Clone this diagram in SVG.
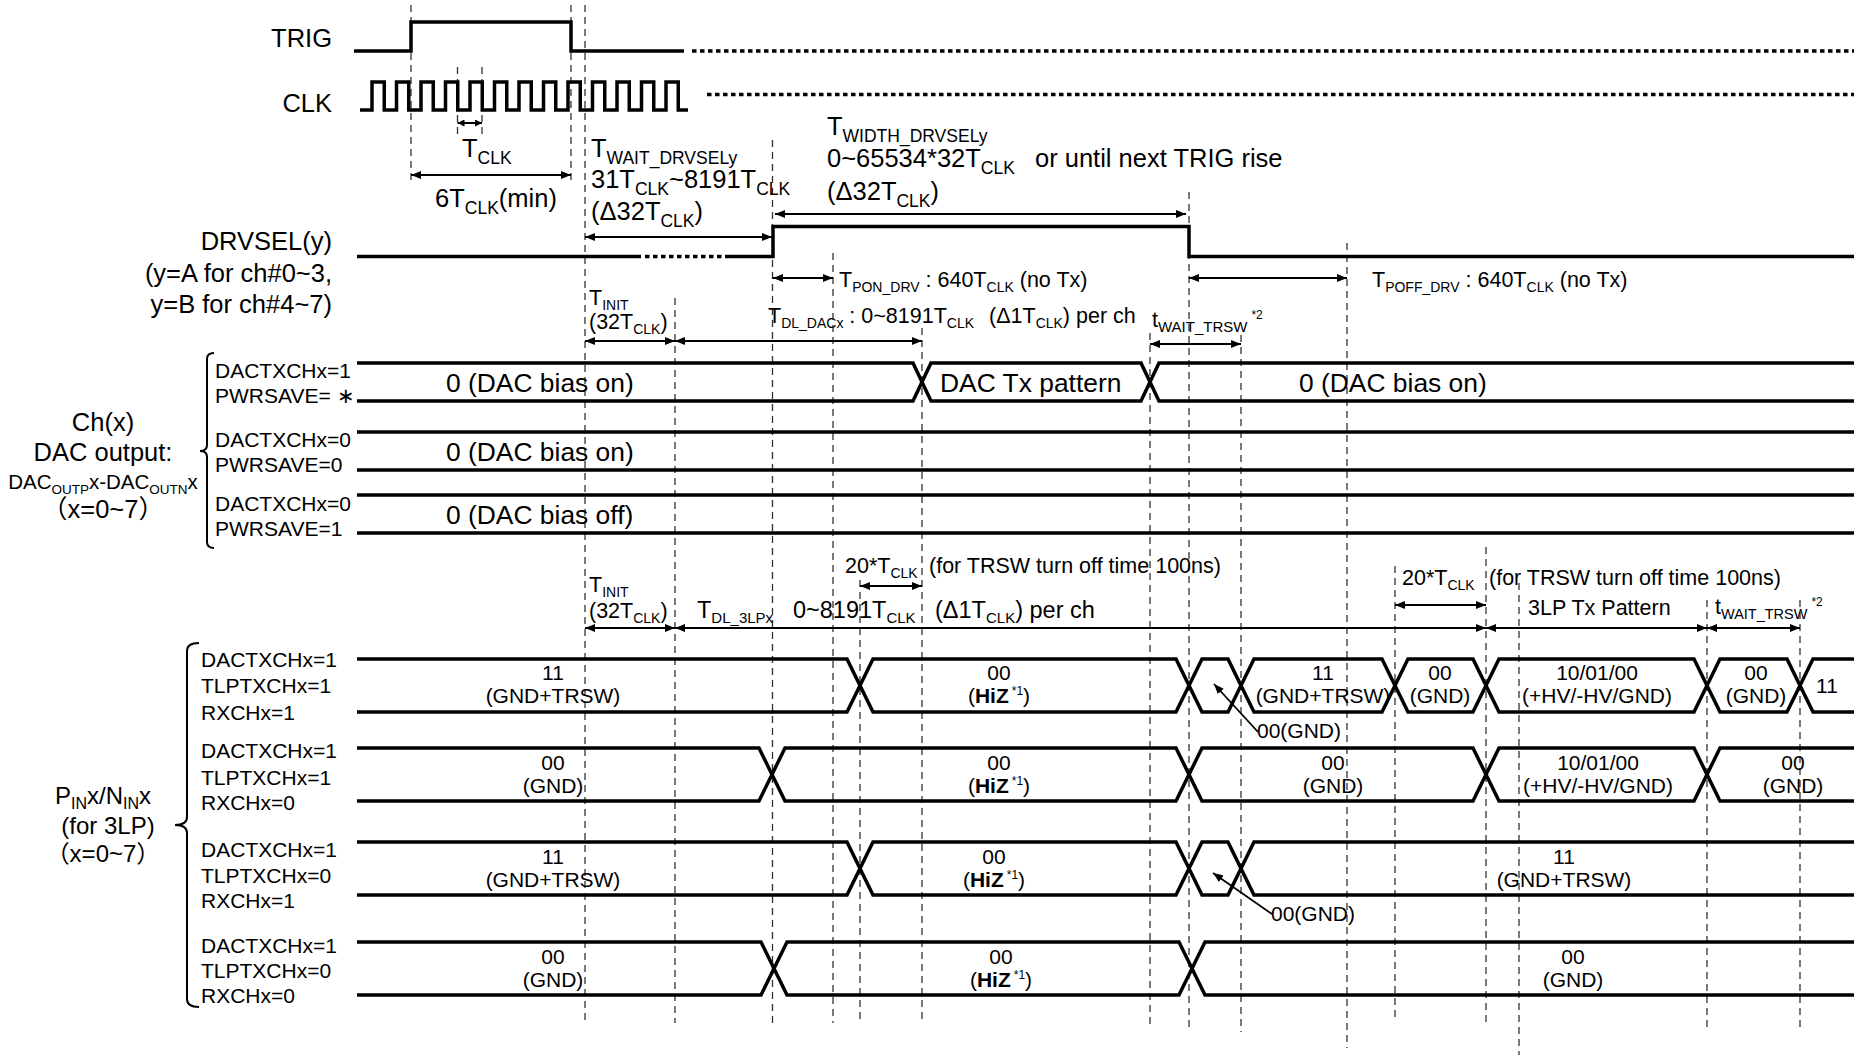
<svg xmlns="http://www.w3.org/2000/svg" width="1854" height="1055" viewBox="0 0 1854 1055">
<defs>
<style>
text{font-family:"Liberation Sans",Arial,"Noto Sans CJK JP",sans-serif;fill:#000}
.b{font-size:25.5px}
.p{font-size:24px}
.m{font-size:21.5px}
.d{font-size:26.4px}
.l{font-size:21px}
.k{font-size:23.5px}
.sb{font-size:17.5px}
.ss{font-size:14px}
.sw{font-size:15px}
.sup{font-size:12px}
.sig{fill:none;stroke:#000;stroke-width:3.5;stroke-linejoin:miter}
.dot{fill:none;stroke:#000;stroke-width:3.5;stroke-dasharray:4.5 3.5}
.dash{fill:none;stroke:#333;stroke-width:1.3;stroke-dasharray:7 5}
.arr{fill:none;stroke:#000;stroke-width:2;marker-start:url(#ah);marker-end:url(#ah)}
.arrs{fill:none;stroke:#000;stroke-width:2;marker-start:url(#ahs);marker-end:url(#ahs)}
.ptr{fill:none;stroke:#000;stroke-width:1.8;marker-end:url(#ah)}
.brk{fill:none;stroke:#000;stroke-width:2}
</style>
<marker id="ah" viewBox="0 0 10 8" refX="10" refY="4" markerWidth="10" markerHeight="8" markerUnits="userSpaceOnUse" orient="auto-start-reverse"><path d="M0,0 L10,4 L0,8 z" fill="#000"/></marker>
<marker id="ahs" viewBox="0 0 7 7" refX="7" refY="3.5" markerWidth="7" markerHeight="7" markerUnits="userSpaceOnUse" orient="auto-start-reverse"><path d="M0,0 L7,3.5 L0,7 z" fill="#000"/></marker>
</defs>
<rect width="1854" height="1055" fill="#fff"/>

<g id="guides">
<line class="dash" x1="411" y1="5" x2="411" y2="185"/>
<line class="dash" x1="457.5" y1="67" x2="457.5" y2="135"/>
<line class="dash" x1="482" y1="67" x2="482" y2="135"/>
<line class="dash" x1="571" y1="5" x2="571" y2="185"/>
<line class="dash" x1="585" y1="5" x2="585" y2="1023"/>
<line class="dash" x1="675" y1="298" x2="675" y2="1023"/>
<line class="dash" x1="772.5" y1="140" x2="772.5" y2="1028"/>
<line class="dash" x1="833" y1="253" x2="833" y2="1023"/>
<line class="dash" x1="860" y1="580" x2="860" y2="1023"/>
<line class="dash" x1="922" y1="328" x2="922" y2="1020"/>
<line class="dash" x1="1150" y1="333" x2="1150" y2="1028"/>
<line class="dash" x1="1189" y1="192" x2="1189" y2="1028"/>
<line class="dash" x1="1241" y1="335" x2="1241" y2="1032"/>
<line class="dash" x1="1347" y1="243" x2="1347" y2="1048"/>
<line class="dash" x1="1395" y1="566" x2="1395" y2="1022"/>
<line class="dash" x1="1486" y1="547" x2="1486" y2="1023"/>
<line class="dash" x1="1519" y1="583" x2="1519" y2="1055"/>
<line class="dash" x1="1707" y1="600" x2="1707" y2="1028"/>
<line class="dash" x1="1800" y1="600" x2="1800" y2="1032"/>
</g>

<g id="trig">
<text class="b" x="332" y="47" text-anchor="end">TRIG</text>
<path class="sig" d="M354,51 H411 V22 H571 V51 H684"/>
<path class="dot" d="M692,51 H1854"/>
</g>

<g id="clk">
<text class="b" x="332" y="112" text-anchor="end">CLK</text>
<path class="sig" d="M360,110 H372 V82 H384.25 V110 H396.5 V82 H408.75 V110 H421 V82 H433.25 V110 H445.5 V82 H457.75 V110 H470 V82 H482.25 V110 H494.5 V82 H506.75 V110 H519 V82 H531.25 V110 H543.5 V82 H555.75 V110 H568 V82 H580.25 V110 H592.5 V82 H604.75 V110 H617 V82 H629.25 V110 H641.5 V82 H653.75 V110 H666 V82 H678.25 V110 H688"/>
<path class="dot" d="M707,94.5 H1854"/>
<text class="b" x="462" y="157">T<tspan class="sb" dy="7">CLK</tspan></text>
<text class="b" x="435" y="207">6T<tspan class="sb" dy="7">CLK</tspan><tspan dy="-7">(min)</tspan></text>
</g>

<g id="drvsel">
<text class="b" x="332" y="250" text-anchor="end">DRVSEL(y)</text>
<text class="b" x="332" y="282" text-anchor="end">(y=A for ch#0~3,</text>
<text class="b" x="332" y="313" text-anchor="end">y=B for ch#4~7)</text>
<path class="sig" d="M357,256.5 H641"/>
<path class="dot" d="M645,256.5 H727"/>
<path class="sig" d="M727,256.5 H773 V226.5 H1189 V256.5 H1854"/>
<text class="b" x="591" y="157">T<tspan class="sb" dy="7">WAIT_DRVSELy</tspan></text>
<text class="b" x="591" y="188">31T<tspan class="sb" dy="7">CLK</tspan><tspan dy="-7">~8191T</tspan><tspan class="sb" dy="7">CLK</tspan></text>
<text class="b" x="591" y="220">(Δ32T<tspan class="sb" dy="7">CLK</tspan><tspan dy="-7">)</tspan></text>
<text class="b" x="827" y="135">T<tspan class="sb" dy="7">WIDTH_DRVSELy</tspan></text>
<text class="b" x="827" y="167">0~65534*32T<tspan class="sb" dy="7">CLK</tspan><tspan x="1035" y="167">or until next TRIG rise</tspan></text>
<text class="b" x="827" y="200">(Δ32T<tspan class="sb" dy="7">CLK</tspan><tspan dy="-7">)</tspan></text>
<text class="m" x="839" y="287">T<tspan class="ss" dy="5">PON_DRV</tspan><tspan dy="-5"> : 640T</tspan><tspan class="ss" dy="5">CLK</tspan><tspan dy="-5"> (no Tx)</tspan></text>
<text class="m" x="1372" y="287">T<tspan class="ss" dy="5">POFF_DRV</tspan><tspan dy="-5"> : 640T</tspan><tspan class="ss" dy="5">CLK</tspan><tspan dy="-5"> (no Tx)</tspan></text>
<text class="m" x="589" y="305">T<tspan class="ss" dy="5">INIT</tspan></text>
<text class="m" x="589" y="329">(32T<tspan class="ss" dy="5">CLK</tspan><tspan dy="-5">)</tspan></text>
<text class="m" x="768" y="323">T<tspan class="ss" dy="5">DL_DACx</tspan><tspan dy="-5"> : 0~8191T</tspan><tspan class="ss" dy="5">CLK</tspan><tspan x="989" y="323">(Δ1T</tspan><tspan class="ss" dy="5">CLK</tspan><tspan dy="-5">) per ch</tspan></text>
<text class="m" x="1152" y="327">t<tspan class="sw" dy="5">WAIT_TRSW</tspan><tspan class="sup" dx="4" dy="-13">*2</tspan></text>
</g>

<g id="dac-label">
<path class="brk" d="M214,353 Q207,353 207,359 V445 Q207,451 200,451 Q207,451 207,457 V542 Q207,548 214,548"/>
<text class="b" x="103" y="431" text-anchor="middle">Ch(x)</text>
<text class="b" x="103" y="461" text-anchor="middle">DAC output:</text>
<text x="103" y="489" text-anchor="middle" font-size="20.5px">DAC<tspan font-size="13.5px" dy="5">OUTP</tspan><tspan dy="-5">x-DAC</tspan><tspan font-size="13.5px" dy="5">OUTN</tspan><tspan dy="-5">x</tspan></text>
<text class="b" x="103" y="518" text-anchor="middle">（x=0~7）</text>
</g>

<g id="dac-row1">
<text class="l" x="215" y="378">DACTXCHx=1</text>
<text class="l" x="215" y="403">PWRSAVE= ∗</text>
<path class="sig" d="M357,363 H913 L931,401 H1141 L1159,363 H1854"/>
<path class="sig" d="M357,401 H913 L931,363 H1141 L1159,401 H1854"/>
<text class="d" x="446" y="391.5">0 (DAC bias on)</text>
<text class="d" x="940" y="391.5">DAC Tx pattern</text>
<text class="d" x="1299" y="391.5">0 (DAC bias on)</text>
</g>

<g id="dac-row2">
<text class="l" x="215" y="447">DACTXCHx=0</text>
<text class="l" x="215" y="472">PWRSAVE=0</text>
<path class="sig" d="M357,432 H1854 M357,470 H1854"/>
<text class="d" x="446" y="460.5">0 (DAC bias on)</text>
</g>

<g id="dac-row3">
<text class="l" x="215" y="511">DACTXCHx=0</text>
<text class="l" x="215" y="536">PWRSAVE=1</text>
<path class="sig" d="M357,495 H1854 M357,533 H1854"/>
<text class="d" x="446" y="523.5">0 (DAC bias off)</text>
</g>

<g id="lower-annotations">
<text class="m" x="589" y="592">T<tspan class="ss" dy="5">INIT</tspan></text>
<text class="m" x="589" y="618">(32T<tspan class="ss" dy="5">CLK</tspan><tspan dy="-5">)</tspan></text>
<text class="m" x="845" y="573">20*T<tspan class="ss" dy="5">CLK</tspan></text>
<text class="m" x="929" y="573">(for TRSW turn off time 100ns)</text>
<text class="k" x="697" y="618">T<tspan font-size="15px" dy="5">DL_3LPx</tspan><tspan x="793" y="618">0~8191T</tspan><tspan font-size="15px" dy="5">CLK</tspan><tspan x="935" y="618">(Δ1T</tspan><tspan font-size="15px" dy="5">CLK</tspan><tspan dy="-5">) per ch</tspan></text>
<text class="m" x="1402" y="585">20*T<tspan class="ss" dy="5">CLK</tspan></text>
<text class="m" x="1489" y="585">(for TRSW turn off time 100ns)</text>
<text class="m" x="1528" y="615">3LP Tx Pattern</text>
<text class="m" x="1715" y="614">t<tspan font-size="14.5px" dy="5">WAIT_TRSW</tspan><tspan class="sup" dx="4" dy="-13">*2</tspan></text>
</g>

<g id="pin-label">
<path class="brk" d="M199,643 Q187,643 187,651 V817 Q187,825 175,825 Q187,825 187,833 V999 Q187,1007 199,1007"/>
<text class="p" x="103" y="804" text-anchor="middle">P<tspan font-size="16px" dy="5">IN</tspan><tspan dy="-5">x/N</tspan><tspan font-size="16px" dy="5">IN</tspan><tspan dy="-5">x</tspan></text>
<text class="p" x="108" y="834" text-anchor="middle">(for 3LP)</text>
<text class="p" x="103" y="862" text-anchor="middle">（x=0~7）</text>
</g>

<g id="pin-rowA">
<text class="l" x="201" y="667">DACTXCHx=1</text>
<text class="l" x="201" y="693">TLPTXCHx=1</text>
<text class="l" x="201" y="719.5">RXCHx=1</text>
<path class="sig" d="M357,659 H847 L873,712 H1176 L1202,659 H1228 L1254,712 H1382 L1408,659 H1473 L1499,712 H1694 L1720,659 H1787 L1813,712 H1854"/>
<path class="sig" d="M357,712 H847 L873,659 H1176 L1202,712 H1228 L1254,659 H1382 L1408,712 H1473 L1499,659 H1694 L1720,712 H1787 L1813,659 H1854"/>
<g text-anchor="middle">
<text class="l" x="553" y="680">11</text><text class="l" x="553" y="703">(GND+TRSW)</text>
<text class="l" x="999" y="680">00</text><text class="l" x="999" y="703">(<tspan font-weight="bold">HiZ</tspan><tspan class="sup" dx="3" dy="-8">*1</tspan><tspan dy="8">)</tspan></text>
<text class="l" x="1323" y="680">11</text><text class="l" x="1323" y="703">(GND+TRSW)</text>
<text class="l" x="1440" y="680">00</text><text class="l" x="1440" y="703">(GND)</text>
<text class="l" x="1597" y="680">10/01/00</text><text class="l" x="1597" y="703">(+HV/-HV/GND)</text>
<text class="l" x="1756" y="680">00</text><text class="l" x="1756" y="703">(GND)</text>
<text class="l" x="1827" y="693">11</text>
</g>
<text class="l" x="1257" y="738">00(GND)</text>
</g>

<g id="pin-rowB">
<text class="l" x="201" y="757.5">DACTXCHx=1</text>
<text class="l" x="201" y="784.5">TLPTXCHx=1</text>
<text class="l" x="201" y="810">RXCHx=0</text>
<path class="sig" d="M357,748 H759 L785,801 H1176 L1202,748 H1473 L1499,801 H1694 L1720,748 H1854"/>
<path class="sig" d="M357,801 H759 L785,748 H1176 L1202,801 H1473 L1499,748 H1694 L1720,801 H1854"/>
<g text-anchor="middle">
<text class="l" x="553" y="769.5">00</text><text class="l" x="553" y="792.5">(GND)</text>
<text class="l" x="999" y="769.5">00</text><text class="l" x="999" y="792.5">(<tspan font-weight="bold">HiZ</tspan><tspan class="sup" dx="3" dy="-8">*1</tspan><tspan dy="8">)</tspan></text>
<text class="l" x="1333" y="769.5">00</text><text class="l" x="1333" y="792.5">(GND)</text>
<text class="l" x="1598" y="769.5">10/01/00</text><text class="l" x="1598" y="792.5">(+HV/-HV/GND)</text>
<text class="l" x="1793" y="769.5">00</text><text class="l" x="1793" y="792.5">(GND)</text>
</g>
</g>

<g id="pin-rowC">
<text class="l" x="201" y="857">DACTXCHx=1</text>
<text class="l" x="201" y="882.5">TLPTXCHx=0</text>
<text class="l" x="201" y="908">RXCHx=1</text>
<path class="sig" d="M357,842 H847 L873,895 H1176 L1202,842 H1228 L1254,895 H1854"/>
<path class="sig" d="M357,895 H847 L873,842 H1176 L1202,895 H1228 L1254,842 H1854"/>
<g text-anchor="middle">
<text class="l" x="553" y="863.5">11</text><text class="l" x="553" y="886.5">(GND+TRSW)</text>
<text class="l" x="994" y="863.5">00</text><text class="l" x="994" y="886.5">(<tspan font-weight="bold">HiZ</tspan><tspan class="sup" dx="3" dy="-8">*1</tspan><tspan dy="8">)</tspan></text>
<text class="l" x="1564" y="863.5">11</text><text class="l" x="1564" y="886.5">(GND+TRSW)</text>
</g>
<text class="l" x="1271" y="921">00(GND)</text>
</g>

<g id="pin-rowD">
<text class="l" x="201" y="952.5">DACTXCHx=1</text>
<text class="l" x="201" y="978">TLPTXCHx=0</text>
<text class="l" x="201" y="1003">RXCHx=0</text>
<path class="sig" d="M357,942 H761 L787,995 H1179 L1205,942 H1854"/>
<path class="sig" d="M357,995 H761 L787,942 H1179 L1205,995 H1854"/>
<g text-anchor="middle">
<text class="l" x="553" y="963.5">00</text><text class="l" x="553" y="986.5">(GND)</text>
<text class="l" x="1001" y="963.5">00</text><text class="l" x="1001" y="986.5">(<tspan font-weight="bold">HiZ</tspan><tspan class="sup" dx="3" dy="-8">*1</tspan><tspan dy="8">)</tspan></text>
<text class="l" x="1573" y="963.5">00</text><text class="l" x="1573" y="986.5">(GND)</text>
</g>
</g>

<g id="connectors">
<line class="arrs" x1="457.5" y1="123" x2="482" y2="123"/>
<line class="arr" x1="411" y1="175" x2="571" y2="175"/>
<line class="arr" x1="585" y1="237" x2="772" y2="237"/>
<line class="arr" x1="775" y1="214" x2="1186" y2="214"/>
<line class="arr" x1="773" y1="278" x2="833" y2="278"/>
<line class="arr" x1="1189" y1="278" x2="1347" y2="278"/>
<line class="arr" x1="585" y1="341" x2="675" y2="341"/>
<line class="arr" x1="675" y1="341" x2="922" y2="341"/>
<line class="arr" x1="1150" y1="344" x2="1241" y2="344"/>
<line class="arr" x1="860" y1="586" x2="922" y2="586"/>
<line class="arr" x1="585" y1="628" x2="675" y2="628"/>
<line class="arr" x1="675" y1="628" x2="1486" y2="628"/>
<line class="arr" x1="1395" y1="605" x2="1486" y2="605"/>
<line class="arr" x1="1486" y1="628" x2="1707" y2="628"/>
<line class="arr" x1="1707" y1="628" x2="1800" y2="628"/>
<line class="ptr" x1="1258" y1="732" x2="1214" y2="684"/>
<line class="ptr" x1="1272" y1="914" x2="1213" y2="873"/>
</g>
</svg>
